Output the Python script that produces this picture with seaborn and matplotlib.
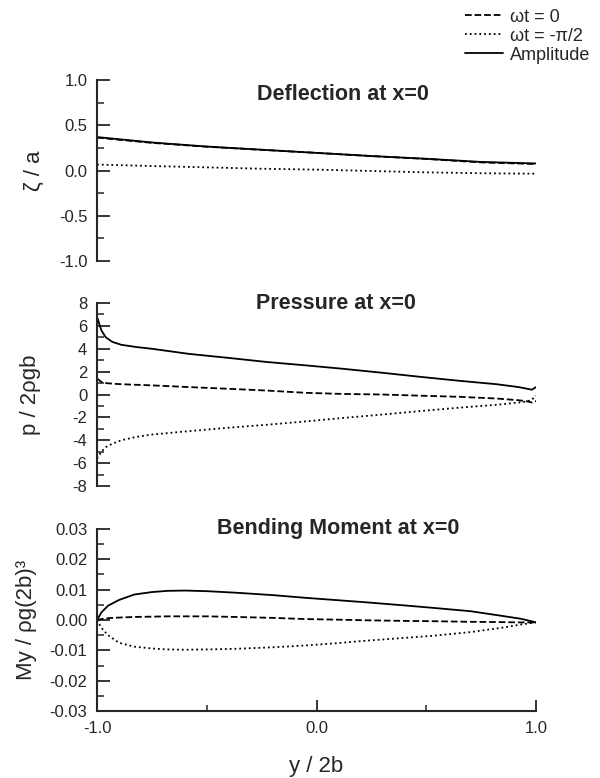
import pandas as pd
import numpy as np
import matplotlib
matplotlib.use('Agg')
import matplotlib.pyplot as plt
from matplotlib.ticker import MultipleLocator, FixedLocator
import seaborn as sns

# Deflection at x=0
defl_y = [-1.0, -0.75, -0.5, -0.25, 0.0, 0.25, 0.5, 0.75, 1.0]
defl_amp = [0.37, 0.31, 0.265, 0.23, 0.195, 0.16, 0.13, 0.095, 0.078]
defl_re = [0.364, 0.306, 0.263, 0.229, 0.195, 0.16, 0.128, 0.09, 0.072]
defl_im = [0.066, 0.05, 0.035, 0.02, 0.01, -0.005, -0.02, -0.03, -0.035]

# Pressure at x=0
pres_y = [-1.0, -0.98, -0.96, -0.93, -0.89, -0.82, -0.75, -0.58, -0.4, -0.23,
          -0.05, 0.12, 0.3, 0.47, 0.65, 0.82, 0.92, 0.96, 0.98, 1.0]
pres_amp = [6.8, 5.6, 5.0, 4.6, 4.35, 4.15, 4.0, 3.55, 3.2, 2.85,
            2.55, 2.25, 1.9, 1.55, 1.2, 0.9, 0.65, 0.5, 0.42, 0.66]
pres_re = [1.4, 1.1, 1.0, 0.95, 0.9, 0.85, 0.8, 0.65, 0.5, 0.35,
           0.15, 0.05, 0.0, -0.1, -0.2, -0.35, -0.5, -0.6, -0.7, -0.57]
pres_im = [-5.6, -5.0, -4.6, -4.3, -4.0, -3.7, -3.5, -3.2, -2.9, -2.65,
           -2.35, -2.05, -1.75, -1.45, -1.15, -0.9, -0.7, -0.6, -0.45, -0.1]

# Bending moment at x=0
bend_y = [-1.0, -0.98, -0.95, -0.9, -0.83, -0.75, -0.68, -0.6, -0.5, -0.37,
          -0.2, -0.05, 0.1, 0.23, 0.4, 0.53, 0.7, 0.84, 0.93, 1.0]
bend_amp = [0.0, 0.0025, 0.0047, 0.0066, 0.0084, 0.0092, 0.0096, 0.0097, 0.0095, 0.0090,
            0.0082, 0.0073, 0.0065, 0.0058, 0.0048, 0.0040, 0.0029, 0.0014, 0.0004, -0.0008]
bend_re = [0.0, 0.0003, 0.0006, 0.0008, 0.0010, 0.0011, 0.0012, 0.0012, 0.0012, 0.0010,
           0.0007, 0.0003, 0.0001, -0.0001, -0.0003, -0.0004, -0.0006, -0.0007, -0.0008, -0.0008]
bend_im = [0.0, -0.0026, -0.0050, -0.0075, -0.0088, -0.0094, -0.0097, -0.0098, -0.0097, -0.0095,
           -0.0090, -0.0084, -0.0076, -0.0068, -0.0059, -0.0052, -0.0040, -0.0026, -0.0015, -0.0008]

series_labels = ['\u03c9t = 0', '\u03c9t = -\u03c0/2', 'Amplitude']
series_styles = ['--', ':', '-']

sns.set_style('ticks')
plt.rcParams['font.family'] = ['Liberation Sans', 'DejaVu Sans']
plt.rcParams['axes.linewidth'] = 1.5

fig = plt.figure(figsize=(6, 7.78), dpi=100)
left, width = 0.1617, 0.732
ax1 = fig.add_axes([left, 0.6645, width, 0.2326])
ax2 = fig.add_axes([left, 0.3753, width, 0.2352])
ax3 = fig.add_axes([left, 0.0861, width, 0.234])

panels = [
    (ax1, defl_y, [defl_re, defl_im, defl_amp], 'Deflection at x=0', '\u03b6 / a',
     (-1.0, 1.0), 0.5, 0.25, '%.1f', 0.559, 0.92, -0.118),
    (ax2, pres_y, [pres_re, pres_im, pres_amp], 'Pressure at x=0', 'p / 2\u03c1gb',
     (-8, 8), 2, 1, '%d', 0.545, 0.995, -0.127),
    (ax3, bend_y, [bend_re, bend_im, bend_amp], 'Bending Moment at x=0', 'My / \u03c1g(2b)\u00b3',
     (-0.03, 0.03), 0.01, 0.005, '%.2f', 0.548, 1.0, -0.136),
]

for ax, yy, vals, title, ylab, ylim, major, minor, fmt, tx, ty, lx in panels:
    for v, lab, ls in zip(vals, series_labels, series_styles):
        sns.lineplot(x=yy, y=v, ax=ax, color='black', linestyle=ls, linewidth=1.3,
                     label=lab, legend=False)
    ax.set_xlim(-1.0, 1.0)
    ax.set_ylim(*ylim)
    ax.yaxis.set_major_locator(MultipleLocator(major))
    ax.yaxis.set_minor_locator(MultipleLocator(minor))
    ax.yaxis.set_major_formatter(plt.FormatStrFormatter(fmt))
    ax.tick_params(axis='y', which='major', direction='in', length=9, width=1.3,
                   labelsize=12, pad=7)
    ax.tick_params(axis='y', which='minor', direction='in', length=5, width=1.1)
    ax.set_ylabel(ylab, fontsize=16)
    ax.yaxis.set_label_coords(lx, 0.5)
    ax.text(tx, ty, title, transform=ax.transAxes, ha='center', va='center',
            fontsize=15.5, fontweight='bold')
    sns.despine(ax=ax)

ax3.yaxis.set_major_formatter(plt.FuncFormatter(lambda v, p: '%.2f' % (0.0 if abs(v) < 1e-9 else v)))

for ax in (ax1, ax2):
    ax.spines['bottom'].set_visible(False)
    ax.set_xticks([])
    ax.set_xlabel('')

ax3.xaxis.set_major_locator(FixedLocator([-1.0, 0.0, 1.0]))
ax3.xaxis.set_minor_locator(FixedLocator([-0.5, 0.5]))
ax3.xaxis.set_major_formatter(plt.FormatStrFormatter('%.1f'))
ax3.tick_params(axis='x', which='major', direction='in', length=8, width=1.3,
                labelsize=12, pad=7)
ax3.tick_params(axis='x', which='minor', direction='in', length=4.5, width=1.1)
ax3.set_xlabel('y / 2b', fontsize=16)
ax3.xaxis.set_label_coords(0.5, -0.245)

handles, labels = ax1.get_legend_handles_labels()
fig.legend(handles, labels, loc='upper left', bbox_to_anchor=(0.775, 0.989),
           frameon=False, fontsize=13, handlelength=2.1, handletextpad=0.4,
           labelspacing=0.11, borderaxespad=0, borderpad=0)

fig.savefig('out.png', dpi=100, facecolor='white')
